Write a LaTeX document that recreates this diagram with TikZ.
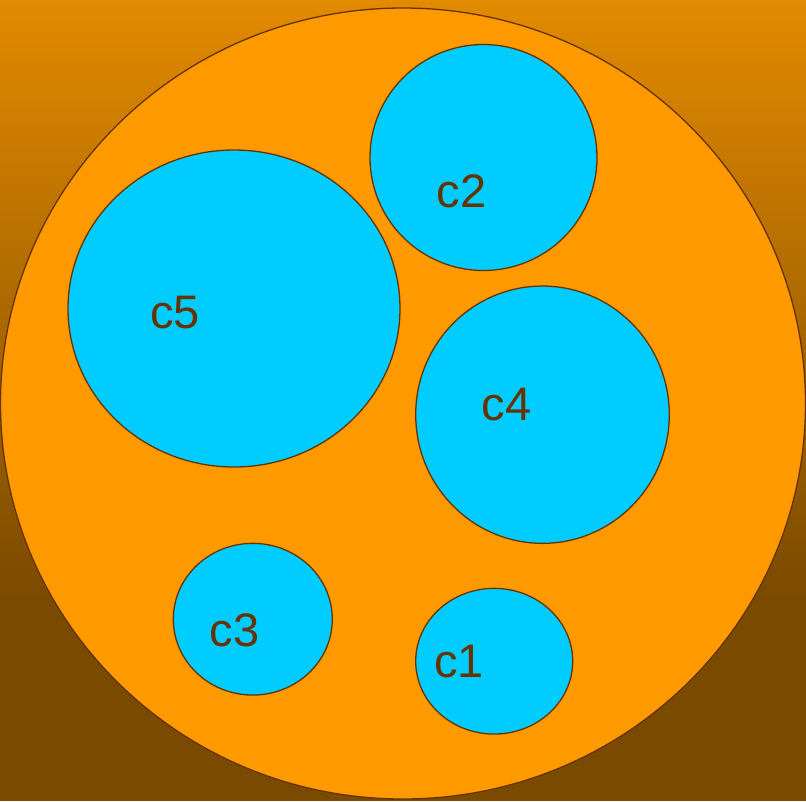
\documentclass[tikz,border=0pt]{standalone}
\usepackage{fontspec}
\setmainfont{Liberation Sans}
\usetikzlibrary{shapes.geometric}
\definecolor{bgtop}{RGB}{226,138,0}
\definecolor{bgbot}{RGB}{122,74,0}
\definecolor{orangefill}{RGB}{255,153,0}
\definecolor{cyanfill}{RGB}{0,204,255}
\definecolor{brownline}{RGB}{102,51,0}
\begin{document}
\begin{tikzpicture}[x=1pt,y=-1pt,
  blob/.style={ellipse,draw=brownline,line width=1.3pt,inner sep=0pt,fill=#1},
  lbl/.style={anchor=base,text=brownline,inner sep=0pt,font=\fontsize{47}{56}\selectfont}]
\useasboundingbox (0,0) rectangle (806,801);
\shade[top color=bgtop,bottom color=bgbot] (0,0) rectangle (806,600);
\fill[bgbot] (0,599) rectangle (806,801);
\node[blob=orangefill,minimum width=805pt,minimum height=791pt] (outer) at (403,403.5) {};
\node[blob=cyanfill,minimum width=332pt,minimum height=317pt] (c5) at (234,308.5) {};
\node[blob=cyanfill,minimum width=227pt,minimum height=226pt] (c2) at (483.5,157.5) {};
\node[blob=cyanfill,minimum width=253.6pt,minimum height=257.3pt] (c4) at (542.5,414.7) {};
\node[blob=cyanfill,minimum width=159pt,minimum height=151.7pt] (c3) at (252.8,619.2) {};
\node[blob=cyanfill,minimum width=157pt,minimum height=145.7pt] (c1) at (494.2,661.2) {};
\node[lbl] (t5) at (175,328) {c5};
\node[lbl] (t2) at (461.5,207) {c2};
\node[lbl] (t4) at (506.7,420.7) {c4};
\node[lbl] (t3) at (234.5,646.7) {c3};
\node[lbl] (t1) at (459,677.3) {c1};
\end{tikzpicture}
\end{document}
